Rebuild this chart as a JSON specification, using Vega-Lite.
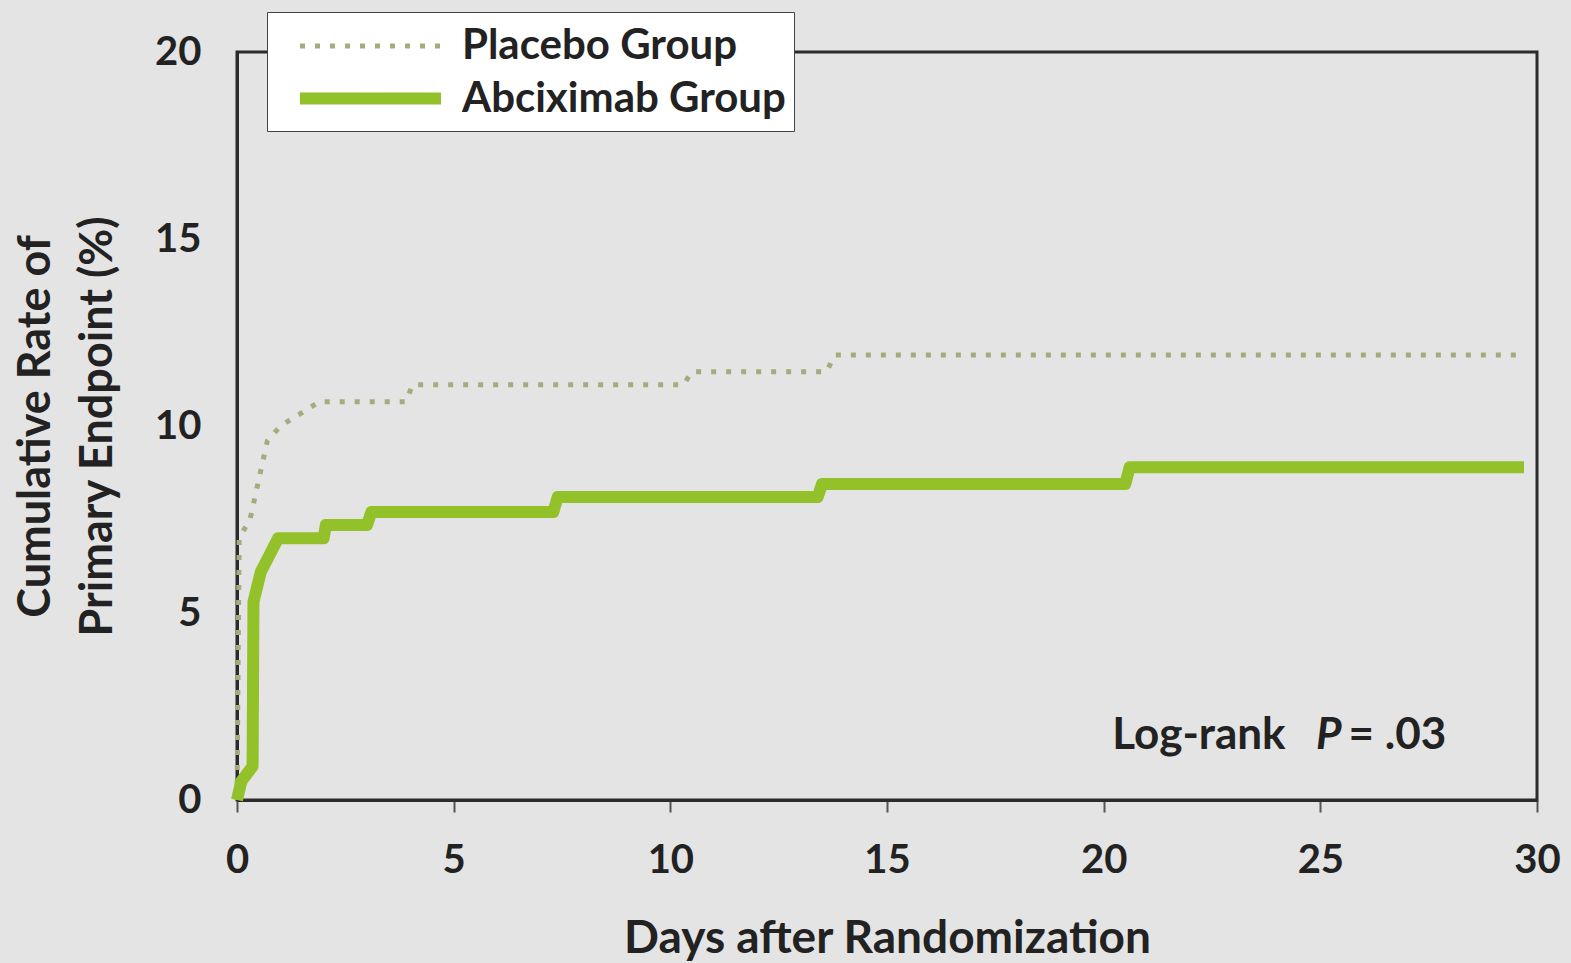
{
  "$schema": "https://vega.github.io/schema/vega-lite/v6.json",
  "width": 1300,
  "height": 748,
  "autosize": "none",
  "padding": {"left": 237, "top": 52, "right": 34, "bottom": 163},
  "background": "#e4e4e4",
  "config": {
    "view": {"stroke": "#2b2b2b", "strokeWidth": 3},
    "font": "Lato",
    "axis": {
      "labelFont": "Lato", "labelFontWeight": "bold", "labelColor": "#222222",
      "titleFont": "Lato", "titleFontWeight": "bold", "titleColor": "#222222",
      "grid": false, "domainColor": "#2b2b2b", "domainWidth": 3
    }
  },
  "datasets": {
    "km": [
      {"group": "Placebo Group", "day": 0, "rate": 0},
      {"group": "Placebo Group", "day": 0.05, "rate": 7.0},
      {"group": "Placebo Group", "day": 0.3, "rate": 7.5},
      {"group": "Placebo Group", "day": 0.7, "rate": 9.6},
      {"group": "Placebo Group", "day": 1.0, "rate": 10.0},
      {"group": "Placebo Group", "day": 1.7, "rate": 10.5},
      {"group": "Placebo Group", "day": 1.9, "rate": 10.65},
      {"group": "Placebo Group", "day": 3.9, "rate": 10.65},
      {"group": "Placebo Group", "day": 4.05, "rate": 11.1},
      {"group": "Placebo Group", "day": 10.3, "rate": 11.1},
      {"group": "Placebo Group", "day": 10.5, "rate": 11.45},
      {"group": "Placebo Group", "day": 13.6, "rate": 11.45},
      {"group": "Placebo Group", "day": 13.8, "rate": 11.9},
      {"group": "Placebo Group", "day": 29.7, "rate": 11.9},
      {"group": "Abciximab Group", "day": 0, "rate": 0},
      {"group": "Abciximab Group", "day": 0.1, "rate": 0.5},
      {"group": "Abciximab Group", "day": 0.36, "rate": 0.9},
      {"group": "Abciximab Group", "day": 0.38, "rate": 5.3},
      {"group": "Abciximab Group", "day": 0.55, "rate": 6.1},
      {"group": "Abciximab Group", "day": 0.95, "rate": 7.0},
      {"group": "Abciximab Group", "day": 2.0, "rate": 7.0},
      {"group": "Abciximab Group", "day": 2.05, "rate": 7.35},
      {"group": "Abciximab Group", "day": 3.0, "rate": 7.35},
      {"group": "Abciximab Group", "day": 3.1, "rate": 7.7},
      {"group": "Abciximab Group", "day": 7.3, "rate": 7.7},
      {"group": "Abciximab Group", "day": 7.4, "rate": 8.1},
      {"group": "Abciximab Group", "day": 13.4, "rate": 8.1},
      {"group": "Abciximab Group", "day": 13.5, "rate": 8.45},
      {"group": "Abciximab Group", "day": 20.5, "rate": 8.45},
      {"group": "Abciximab Group", "day": 20.6, "rate": 8.9},
      {"group": "Abciximab Group", "day": 29.7, "rate": 8.9}
    ],
    "note": [{"label": "Log-rank", "p": "P", "val": "= .03"}]
  },
  "layer": [
    {
      "data": {"name": "km"},
      "mark": {"type": "line", "strokeCap": "butt", "strokeJoin": "round"},
      "encoding": {
        "x": {
          "field": "day", "type": "quantitative",
          "scale": {"domain": [0, 30], "nice": false},
          "axis": {
            "title": "Days after Randomization", "titleFontSize": 46, "titlePadding": 36,
            "values": [0, 5, 10, 15, 20, 25, 30], "labelFontSize": 40, "labelPadding": 28,
            "tickSize": 12, "tickColor": "#555555", "tickWidth": 2, "labelFlush": false
          }
        },
        "y": {
          "field": "rate", "type": "quantitative",
          "scale": {"domain": [0, 20], "nice": false},
          "axis": {
            "title": ["Cumulative Rate of", "Primary Endpoint (%)"],
            "titleFontSize": 45, "titleLineHeight": 62, "titlePadding": 34,
            "values": [0, 5, 10, 15, 20], "labelFontSize": 40, "labelPadding": 36,
            "ticks": false, "labelFlush": false
          }
        },
        "color": {
          "field": "group", "type": "nominal",
          "scale": {"domain": ["Placebo Group", "Abciximab Group"], "range": ["#a2ac7c", "#93c12a"]},
          "legend": {
            "title": null, "orient": "none", "legendX": 30, "legendY": -40,
            "symbolType": "M-3,0H3", "symbolSize": 2209,
            "labelFont": "Lato", "labelFontWeight": "bold", "labelFontSize": 42, "labelColor": "#222222",
            "labelOffset": 62, "symbolOffset": 66, "rowPadding": 2, "padding": 8,
            "fillColor": "#ffffff", "strokeColor": "#444444", "labelLimit": 400
          }
        },
        "strokeDash": {
          "field": "group", "type": "nominal",
          "scale": {"domain": ["Placebo Group", "Abciximab Group"], "range": [[5, 10], [1, 0]]}
        },
        "strokeWidth": {
          "field": "group", "type": "nominal",
          "scale": {"domain": ["Placebo Group", "Abciximab Group"], "range": [5, 12]}
        },
        "order": {"field": "day", "type": "quantitative"}
      }
    },
    {
      "data": {"name": "note"},
      "mark": {"type": "text", "align": "left", "baseline": "middle", "font": "Lato", "fontWeight": "bold", "fontSize": 44, "color": "#222222"},
      "encoding": {"text": {"field": "label"}, "x": {"datum": 20.2}, "y": {"datum": 1.7}}
    },
    {
      "data": {"name": "note"},
      "mark": {"type": "text", "align": "left", "baseline": "middle", "font": "Lato", "fontWeight": "bold", "fontSize": 44, "fontStyle": "italic", "color": "#222222"},
      "encoding": {"text": {"field": "p"}, "x": {"datum": 24.9}, "y": {"datum": 1.7}}
    },
    {
      "data": {"name": "note"},
      "mark": {"type": "text", "align": "left", "baseline": "middle", "font": "Lato", "fontWeight": "bold", "fontSize": 44, "color": "#222222"},
      "encoding": {"text": {"field": "val"}, "x": {"datum": 25.65}, "y": {"datum": 1.7}}
    }
  ]
}
